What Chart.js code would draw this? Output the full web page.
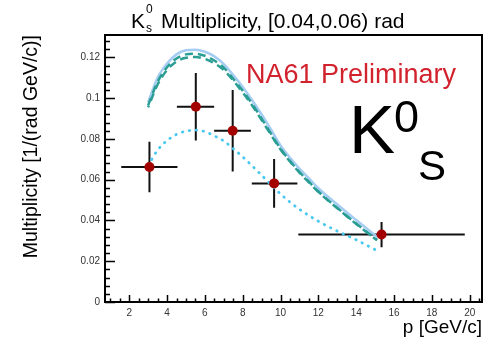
<!DOCTYPE html>
<html>
<head>
<meta charset="utf-8">
<script src="https://cdn.jsdelivr.net/npm/chart.js@4"></script>
<style>
  body { margin: 0; background: #fff; }
  canvas { display: block; }
</style>
</head>
<body>
<canvas id="k0s" width="491" height="343"></canvas>
<script>
// measured K0s points: bin centres, values, bin edges and errors
const pCenter = [3.07, 5.52, 7.47, 9.66, 15.34];
const multiplicity = [0.0662, 0.0958, 0.0840, 0.0582, 0.0331];
const binLow = [1.58, 4.52, 6.49, 8.48, 10.94];
const binHigh = [4.55, 6.49, 8.43, 10.89, 19.74];
const multErr = [0.0124, 0.0166, 0.0200, 0.0119, 0.0062];

// model predictions sampled in p
const curveP = [3.0, 3.5, 4.0, 4.5, 5.0, 5.5, 6.0, 6.5, 7.0, 7.5, 8.0, 8.5, 9.0, 9.5, 10.0, 10.5, 11.0, 11.5, 12.0, 13.0, 14.0, 15.1];
const modelSolid = [0.0980, 0.1100, 0.1170, 0.1215, 0.1235, 0.1238, 0.1228, 0.1205, 0.1167, 0.1113, 0.1055, 0.0990, 0.0920, 0.0845, 0.0768, 0.0708, 0.0655, 0.0607, 0.0558, 0.0478, 0.0402, 0.0320];
const modelDashA = [0.0965, 0.1080, 0.1152, 0.1195, 0.1215, 0.1218, 0.1208, 0.1185, 0.1150, 0.1095, 0.1037, 0.0972, 0.0900, 0.0825, 0.0752, 0.0692, 0.0638, 0.0590, 0.0542, 0.0462, 0.0385, 0.0305];
const modelDashB = [0.0955, 0.1067, 0.1138, 0.1180, 0.1198, 0.1202, 0.1193, 0.1171, 0.1138, 0.1087, 0.1028, 0.0964, 0.0893, 0.0819, 0.0748, 0.0689, 0.0635, 0.0587, 0.0540, 0.0460, 0.0383, 0.0303];
const modelDotted = [0.0670, 0.0745, 0.0792, 0.0822, 0.0838, 0.0843, 0.0836, 0.0815, 0.0790, 0.0752, 0.0712, 0.0668, 0.0622, 0.0575, 0.0530, 0.0490, 0.0455, 0.0424, 0.0396, 0.0348, 0.0305, 0.0252];

const xTicks = [2, 4, 6, 8, 10, 12, 14, 16, 18, 20];
const yTicks = [0, 0.02, 0.04, 0.06, 0.08, 0.1, 0.12];
const yTickLabels = ['0', '0.02', '0.04', '0.06', '0.08', '0.1', '0.12'];

const FONT = '"Liberation Sans", Arial, Helvetica, sans-serif';

function toXY(xs, ys) {
  return xs.map((x, i) => ({ x: x, y: ys[i] }));
}

// ROOT-like frame: box with inward ticks, error crosses, title and labels
const rootStyle = {
  id: 'rootStyle',
  beforeDatasetsDraw(chart) {
    const { ctx, scales: { x, y } } = chart;
    ctx.save();
    ctx.strokeStyle = '#111';
    ctx.lineWidth = 2;
    ctx.beginPath();
    for (let i = 0; i < pCenter.length; i++) {
      const py = y.getPixelForValue(multiplicity[i]);
      ctx.moveTo(x.getPixelForValue(binLow[i]), py);
      ctx.lineTo(x.getPixelForValue(binHigh[i]), py);
      const px = x.getPixelForValue(pCenter[i]);
      ctx.moveTo(px, y.getPixelForValue(multiplicity[i] - multErr[i]));
      ctx.lineTo(px, y.getPixelForValue(multiplicity[i] + multErr[i]));
    }
    ctx.stroke();
    ctx.restore();
  },
  afterDraw(chart) {
    const { ctx, chartArea: a, scales: { x, y } } = chart;
    ctx.save();
    ctx.strokeStyle = '#000';
    ctx.lineWidth = 2;
    ctx.strokeRect(a.left, a.top, a.right - a.left, a.bottom - a.top);

    ctx.lineWidth = 1.5;
    ctx.beginPath();
    // x ticks: major every 2, minor every 0.5
    for (let v = Math.ceil(x.min * 2) / 2; v <= x.max; v += 0.5) {
      const px = Math.round(x.getPixelForValue(v)) + 0.5;
      const len = Math.abs(v % 2) < 1e-6 ? 7 : 3.5;
      ctx.moveTo(px, a.bottom);
      ctx.lineTo(px, a.bottom - len);
    }
    // y ticks: major every 0.02, minor every 0.004
    for (let k = 0; k * 0.004 <= y.max + 1e-9; k++) {
      const py = Math.round(y.getPixelForValue(k * 0.004)) + 0.5;
      const len = k % 5 === 0 ? 10 : 5;
      ctx.moveTo(a.left, py);
      ctx.lineTo(a.left + len, py);
    }
    ctx.stroke();

    // title
    ctx.fillStyle = '#000';
    ctx.textBaseline = 'alphabetic';
    ctx.textAlign = 'left';
    ctx.font = '21px ' + FONT;
    ctx.fillText('K', 131, 28);
    ctx.font = '12px ' + FONT;
    ctx.fillText('0', 146, 13);
    ctx.fillText('s', 146, 32);
    ctx.font = '21px ' + FONT;
    ctx.fillText('Multiplicity, [0.04,0.06) rad', 161, 28);

    // preliminary tag
    ctx.fillStyle = '#d2222d';
    ctx.font = '27px ' + FONT;
    ctx.fillText('NA61 Preliminary', 246, 83);

    // particle label
    ctx.fillStyle = '#000';
    ctx.font = '69px ' + FONT;
    ctx.fillText('K', 349, 153);
    ctx.font = '45px ' + FONT;
    ctx.fillText('0', 394, 132);
    ctx.font = '42px ' + FONT;
    ctx.fillText('S', 418, 180);
    ctx.restore();
  }
};

new Chart(document.getElementById('k0s').getContext('2d'), {
  data: {
    datasets: [
      {
        type: 'scatter',
        data: toXY(pCenter, multiplicity),
        pointRadius: 5,
        pointBackgroundColor: '#a30000',
        pointBorderWidth: 0,
        order: 0
      },
      {
        type: 'line',
        data: toXY(curveP, modelSolid),
        borderColor: '#a5cdf3',
        borderWidth: 2.5,
        pointRadius: 0,
        cubicInterpolationMode: 'monotone',
        order: 4
      },
      {
        type: 'line',
        data: toXY(curveP, modelDashA),
        borderColor: '#2a9d94',
        borderWidth: 2.5,
        borderDash: [8, 5],
        pointRadius: 0,
        cubicInterpolationMode: 'monotone',
        order: 3
      },
      {
        type: 'line',
        data: toXY(curveP, modelDashB),
        borderColor: '#2a9d94',
        borderWidth: 2.5,
        borderDash: [8, 5],
        borderDashOffset: 6,
        pointRadius: 0,
        cubicInterpolationMode: 'monotone',
        order: 2
      },
      {
        type: 'line',
        data: toXY(curveP, modelDotted),
        borderColor: '#48c8f0',
        borderWidth: 2.8,
        borderDash: [0.5, 6.5],
        borderCapStyle: 'round',
        pointRadius: 0,
        cubicInterpolationMode: 'monotone',
        order: 1
      }
    ]
  },
  options: {
    responsive: false,
    animation: false,
    layout: { padding: { top: 35, right: 9, left: 0, bottom: 0 } },
    plugins: { legend: { display: false }, tooltip: { enabled: false } },
    scales: {
      x: {
        type: 'linear',
        min: 0.72,
        max: 20.65,
        afterBuildTicks: (s) => { s.ticks = xTicks.map(v => ({ value: v })); },
        afterFit: (s) => { s.height = 41; },
        grid: { display: false, drawTicks: false },
        border: { display: false },
        ticks: {
          autoSkip: false,
          maxRotation: 0,
          padding: 5,
          color: '#333',
          font: { family: FONT, size: 10 },
          callback: (v) => String(v)
        },
        title: {
          display: true,
          text: 'p [GeV/c]',
          align: 'end',
          color: '#000',
          font: { family: FONT, size: 19 },
          padding: { top: 0, bottom: 4 }
        }
      },
      y: {
        type: 'linear',
        min: 0,
        max: 0.131,
        afterBuildTicks: (s) => { s.ticks = yTicks.map(v => ({ value: v })); },
        afterFit: (s) => { s.width = 105; },
        grid: { display: false, drawTicks: false },
        border: { display: false },
        ticks: {
          padding: 5,
          color: '#333',
          font: { family: FONT, size: 10 },
          callback: (v, i) => yTickLabels[i]
        },
        title: {
          display: true,
          text: 'Multiplicity [1/(rad GeV/c)]',
          align: 'end',
          color: '#000',
          font: { family: FONT, size: 19.5 },
          padding: { top: 20, bottom: 0 }
        }
      }
    }
  },
  plugins: [rootStyle]
});
</script>
</body>
</html>
